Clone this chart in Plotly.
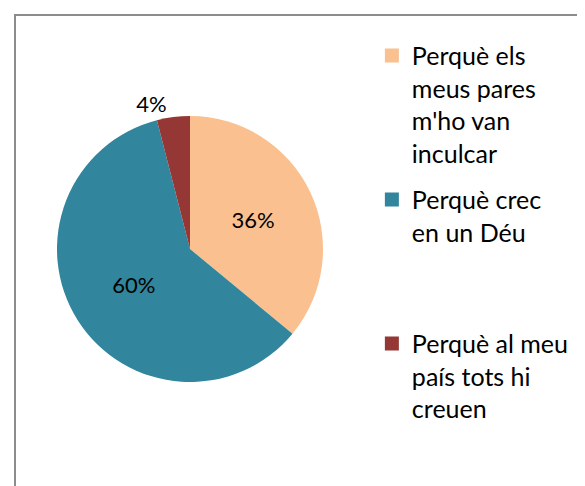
import plotly.graph_objects as go

labels = ["Perquè els meus pares m'ho van inculcar",
          "Perquè crec en un Déu",
          "Perquè al meu país tots hi creuen"]
legend_text = ["Perquè els<br>meus pares<br>m'ho van<br>inculcar",
               "Perquè crec<br>en un Déu<br>&nbsp;<br>&nbsp;",
               "Perquè al meu<br>país tots hi<br>creuen"]
values = [36, 60, 4]
colors = ["#FAC090", "#31859C", "#953735"]
text_pos = ["inside", "inside", "outside"]

W, H = 585, 486
cx, cy, r = 182, 241, 133

fig = go.Figure()
fig.add_trace(go.Pie(
    labels=labels,
    values=values,
    sort=False,
    direction="clockwise",
    rotation=0,
    marker=dict(colors=colors, line=dict(width=0)),
    textposition=text_pos,
    texttemplate="%{percent:.0%}",
    textfont=dict(size=22, color="#000000"),
    insidetextorientation="horizontal",
    showlegend=False,
    domain=dict(x=[(cx - r) / W, (cx + r) / W], y=[1 - (cy + r) / H, 1 - (cy - r) / H]),
))

# legend entries (one group per slice so the gaps can be set)
for i, (name, c) in enumerate(zip(legend_text, colors)):
    fig.add_trace(go.Scatter(
        x=[None], y=[None], mode="markers", name=name,
        marker=dict(symbol="square", size=14, color=c),
        legendgroup=f"g{i}", showlegend=True, hoverinfo="skip",
    ))

fig.update_layout(
    width=W, height=H,
    margin=dict(l=0, r=0, t=0, b=0),
    paper_bgcolor="white",
    plot_bgcolor="white",
    font=dict(family="Lato, 'Open Sans', sans-serif", size=22, color="#000000"),
    xaxis=dict(visible=False),
    yaxis=dict(visible=False),
    legend=dict(x=0.622, y=0.949, xanchor="left", yanchor="top", valign="top",
                font=dict(size=25), bgcolor="rgba(0,0,0,0)",
                tracegroupgap=11, itemclick=False),
    shapes=[dict(type="rect", xref="paper", yref="paper",
                 x0=7 / W, x1=1.02, y0=-0.02, y1=1 - 7 / H,
                 line=dict(color="#8c8c8c", width=2), fillcolor="rgba(0,0,0,0)")],
)

fig.write_html("out.html")
